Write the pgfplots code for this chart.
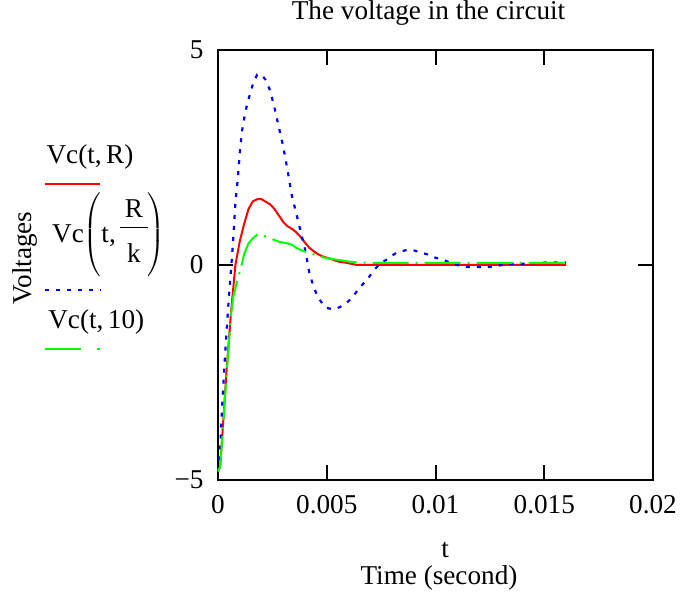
\documentclass[border=0pt]{standalone}
\usepackage{fontspec}
\setmainfont{Liberation Serif}
\usepackage{pgfplots}
\pgfplotsset{compat=1.18}
\definecolor{mcred}{RGB}{255,0,0}
\definecolor{mcblue}{RGB}{0,0,255}
\definecolor{mcgreen}{RGB}{0,255,0}
\newcommand{\fs}{\fontsize{13.6}{12.5}\selectfont}
\begin{document}
\fs
\begin{tikzpicture}
\begin{axis}[name=ax, scale only axis, width=217.5pt, height=215pt,
  xmin=0, xmax=0.02, ymin=-5, ymax=5,
  scaled x ticks=false, scaled y ticks=false,
  xtick={0,0.005,0.01,0.015,0.02}, xticklabels={0,0.005,0.01,0.015,0.02},
  ytick={-5,0,5}, yticklabels={−5,0,5},
  tick align=inside, major tick length=7.5pt,
  every tick/.style={black, line width=1pt},
  axis line style={line width=1pt},
  tick label style={font=\fs},
  xticklabel style={yshift=-3pt},
  yticklabel style={xshift=-2.5pt},
  clip=false,
  title={The voltage in the circuit},
  title style={font=\fs, at={(axis description cs:0.484,1.042)}, anchor=base},
  xlabel={t},
  xlabel style={font=\fs, at={(axis description cs:0.522,-0.181)}, anchor=base},
  ylabel={Voltages},
  ylabel style={font=\fs, at={(axis description cs:-0.444,0.516)}, anchor=center},
]
\addplot[mcred, line width=1pt] coordinates {
(0,-4.8) (0.0001,-4.69) (0.0002,-3.95) (0.0004,-2.4) (0.0006,-1.1) (0.0008,0.0)
(0.001,0.55) (0.0012,0.95) (0.0014,1.3) (0.0016,1.48) (0.0018,1.53) (0.002,1.53)
(0.0022,1.47) (0.0024,1.41) (0.0026,1.3) (0.0028,1.15) (0.003,1.0) (0.0032,0.9)
(0.0034,0.84) (0.0036,0.76) (0.0038,0.65) (0.004,0.52) (0.0042,0.4) (0.0044,0.32)
(0.0046,0.25) (0.0048,0.2) (0.005,0.17) (0.0052,0.14) (0.0054,0.1) (0.0056,0.07)
(0.0058,0.06) (0.006,0.04) (0.0062,0.02) (0.0064,0.0) (0.008,0.0) (0.01,0.0)
(0.012,0.0) (0.014,0.0) (0.016,0.0)
};
\addplot[mcblue, line width=1.1pt, dash pattern=on 2pt off 3.5pt] coordinates {
(0,-4.8) (0.0001,-4.3) (0.0002,-3.2) (0.0003,-2.3) (0.0004,-1.5) (0.0005,-0.75)
(0.0006,-0.1) (0.0007,0.6) (0.0008,1.45) (0.0009,1.95) (0.001,2.6) (0.0011,3.1)
(0.0012,3.4) (0.0013,3.65) (0.0014,3.85) (0.0016,4.2) (0.0018,4.43) (0.002,4.42)
(0.0022,4.3) (0.0024,4.05) (0.0026,3.65) (0.0028,3.2) (0.003,2.75) (0.0032,2.2)
(0.0034,1.6) (0.0036,1.2) (0.0038,0.78) (0.004,0.37) (0.0042,-0.18) (0.0044,-0.52)
(0.0046,-0.75) (0.0048,-0.9) (0.005,-1.0) (0.0052,-1.02) (0.0054,-1.02) (0.0056,-0.98)
(0.0058,-0.92) (0.006,-0.84) (0.0062,-0.74) (0.0064,-0.6) (0.0066,-0.48) (0.0068,-0.37)
(0.007,-0.24) (0.0072,-0.1) (0.0074,0.0) (0.0076,0.08) (0.0078,0.14) (0.008,0.22)
(0.0082,0.28) (0.0084,0.31) (0.0086,0.34) (0.0088,0.35) (0.009,0.34) (0.0092,0.31)
(0.0094,0.28) (0.0096,0.25) (0.0098,0.2) (0.01,0.17) (0.0102,0.14) (0.0104,0.11)
(0.0106,0.07) (0.0108,0.03) (0.011,0.0) (0.0112,-0.02) (0.0114,-0.04) (0.0116,-0.05)
(0.012,-0.05) (0.0124,-0.05) (0.0128,-0.02) (0.0132,0.01) (0.0136,0.03) (0.014,0.03)
(0.0144,0.04) (0.0148,0.05) (0.0152,0.06) (0.016,0.06)
};
\addplot[mcgreen, line width=1pt, dash pattern=on 18pt off 3.5pt on 1pt off 3.5pt] coordinates {
(0,-4.8) (0.0001,-4.69) (0.0002,-4.0) (0.0004,-2.5) (0.0006,-1.15) (0.0007,-0.74)
(0.0009,-0.35) (0.0011,0.03) (0.0012,0.25) (0.0014,0.5) (0.0016,0.62) (0.0018,0.7)
(0.0019,0.72) (0.002,0.71) (0.0022,0.66) (0.0024,0.62) (0.0026,0.58) (0.0028,0.54)
(0.003,0.52) (0.0032,0.5) (0.0034,0.47) (0.0036,0.4) (0.0038,0.35) (0.004,0.31)
(0.0042,0.28) (0.0044,0.25) (0.0046,0.21) (0.0048,0.18) (0.005,0.16) (0.0055,0.12)
(0.006,0.08) (0.0065,0.06) (0.007,0.05) (0.008,0.05) (0.01,0.05) (0.012,0.05)
(0.014,0.05) (0.016,0.05)
};
% legend (Mathcad style, inside the y label area)
\node[font=\fs, anchor=base west, inner sep=0pt] at (axis description cs:-0.395,0.735) {Vc(t,\,R)};
\draw[mcred, line width=1pt] (axis description cs:-0.398,0.688) -- (axis description cs:-0.271,0.688);
\node[font=\fs, anchor=base west, inner sep=0pt] at (axis description cs:-0.382,0.553)
  {Vc$\left(\vcenter{\hbox{\rule[-17.5pt]{0pt}{42pt}t,\,\begin{tabular}{@{\,}c@{\,}}R\\[1pt]\hline\rule{0pt}{17pt}k\end{tabular}}}\right)$};
\draw[mcblue, line width=1.1pt, dash pattern=on 2pt off 3.5pt] (axis description cs:-0.398,0.442) -- (axis description cs:-0.271,0.442);
\node[font=\fs, anchor=base west, inner sep=0pt] at (axis description cs:-0.391,0.353) {Vc(t,\,10)};
\draw[mcgreen, line width=1pt, dash pattern=on 18pt off 8pt on 1.5pt off 8pt] (axis description cs:-0.398,0.305) -- (axis description cs:-0.271,0.305);
\node[font=\fs, anchor=base] at (axis description cs:0.508,-0.242) {Time (second)};
\end{axis}
\pgfresetboundingbox
\path[use as bounding box] ([shift={(-109pt,-57.5pt)}]ax.south west) rectangle ([shift={(20pt,25pt)}]ax.north east);
\end{tikzpicture}
\end{document}
